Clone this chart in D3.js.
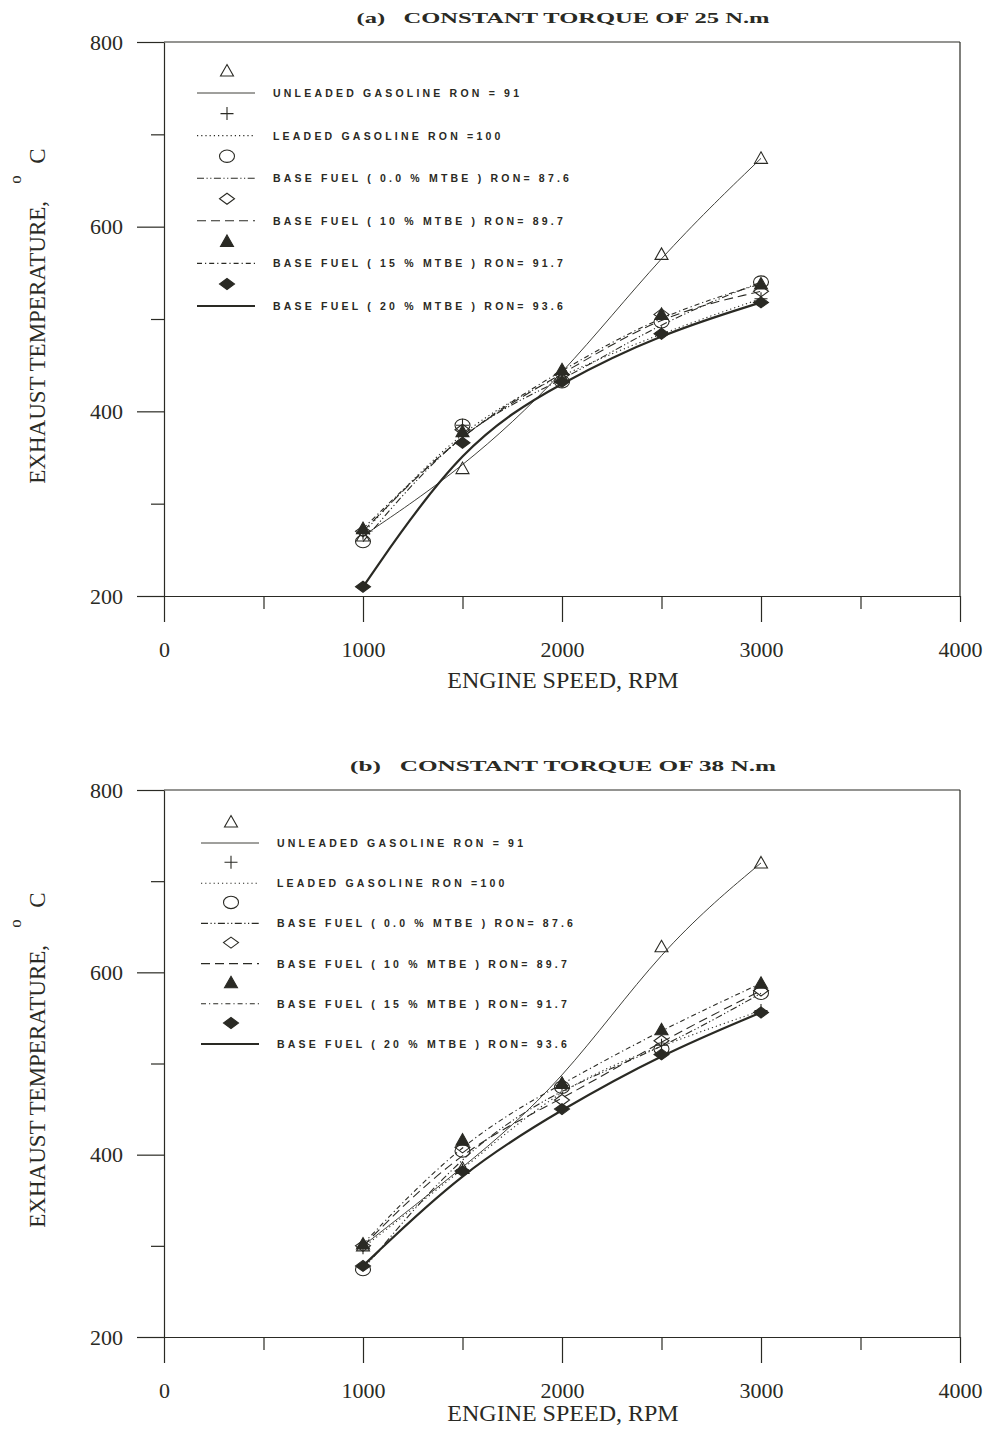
<!DOCTYPE html>
<html>
<head>
<meta charset="utf-8">
<script src="https://cdn.jsdelivr.net/npm/d3@7/dist/d3.min.js"></script>
<style>
  body { margin: 0; background: #fff; }
</style>
</head>
<body>
<div id="chart"></div>
<script>
// engine speeds where readings were taken
const rpm = [1000, 1500, 2000, 2500, 3000]
const xTicks = [0, 1000, 2000, 3000, 4000]
const xMinor = [500, 1500, 2500, 3500]
const yTicks = [200, 400, 600, 800]
const yMinor = [300, 500, 700]

const fuelLabels = [
  'UNLEADED GASOLINE RON = 91',
  'LEADED GASOLINE RON =100',
  'BASE FUEL ( 0.0 % MTBE ) RON= 87.6',
  'BASE FUEL ( 10 % MTBE ) RON= 89.7',
  'BASE FUEL ( 15 % MTBE ) RON= 91.7',
  'BASE FUEL ( 20 % MTBE ) RON= 93.6'
]
const titles = ['(a)   CONSTANT TORQUE OF 25 N.m', '(b)   CONSTANT TORQUE OF 38 N.m']

// panel (a) exhaust temperatures, deg C
const unleadedA = [265, 338, 437, 570, 674]
const leadedA = [268, 385, 440, 485, 522]
const base0A = [259, 385, 432, 497, 540]
const base10A = [270, 380, 440, 505, 530]
const base15A = [273, 378, 445, 505, 538]
const base20A = [210, 366, 432, 484, 518]

// panel (b) exhaust temperatures, deg C
const unleadedB = [300, 385, 478, 628, 720]
const leadedB = [298, 383, 476, 520, 558]
const base0B = [274, 404, 474, 516, 577]
const base10B = [300, 408, 460, 525, 580]
const base15B = [302, 416, 478, 537, 588]
const base20B = [278, 382, 450, 510, 556]

const ink = '#2a2a24'
const serif = '"Liberation Serif", "DejaVu Serif", serif'
const sans = '"Liberation Sans", Arial, sans-serif'

// line look and marker for each fuel, same order as fuelLabels
const styles = [
  { dash: null, width: 0.9, marker: 'triangle' },
  { dash: '1.2,3', width: 1.1, marker: 'plus' },
  { dash: '7,2.5,1.2,2.5,1.2,2.5', width: 1.1, marker: 'circle' },
  { dash: '9,5', width: 1.1, marker: 'diamond' },
  { dash: '5,3,1.2,3', width: 1.1, marker: 'ftriangle' },
  { dash: null, width: 2.2, marker: 'fdiamond' }
]

const svg = d3.select('#chart')
  .append('svg')
  .attr('width', 989)
  .attr('height', 1432)

svg.append('rect').attr('width', 989).attr('height', 1432).attr('fill', '#fff')

function drawMarker (g, kind, cx, cy) {
  const p = d3.path()
  let fill = 'none'
  if (kind === 'triangle' || kind === 'ftriangle') {
    p.moveTo(cx, cy - 6.5); p.lineTo(cx + 6.5, cy + 5); p.lineTo(cx - 6.5, cy + 5); p.closePath()
    if (kind === 'ftriangle') fill = ink
  } else if (kind === 'plus') {
    p.moveTo(cx - 6.5, cy); p.lineTo(cx + 6.5, cy)
    p.moveTo(cx, cy - 6.5); p.lineTo(cx, cy + 6.5)
  } else if (kind === 'circle') {
    g.append('ellipse')
      .attr('cx', cx).attr('cy', cy).attr('rx', 7.5).attr('ry', 6.2)
      .attr('fill', 'none').attr('stroke', ink).attr('stroke-width', 1.1)
    return
  } else {
    p.moveTo(cx, cy - 5.5); p.lineTo(cx + 7.5, cy); p.lineTo(cx, cy + 5.5); p.lineTo(cx - 7.5, cy); p.closePath()
    if (kind === 'fdiamond') fill = ink
  }
  g.append('path')
    .attr('d', p.toString())
    .attr('fill', fill)
    .attr('stroke', ink)
    .attr('stroke-width', 1.1)
}

function drawPanel (cfg) {
  const x = d3.scaleLinear().domain([0, 4000]).range([164, 960])
  const y = d3.scaleLinear().domain([200, 800]).range([cfg.bottom, cfg.top])
  const g = svg.append('g')

  // axes
  const xAxis = g.append('g')
    .attr('transform', `translate(0,${cfg.bottom})`)
    .call(d3.axisBottom(x).tickValues(xTicks).tickFormat(d3.format('d'))
      .tickSize(26).tickSizeOuter(0).tickPadding(19))
  const xMin = g.append('g')
    .attr('transform', `translate(0,${cfg.bottom})`)
    .call(d3.axisBottom(x).tickValues(xMinor).tickSize(13).tickFormat(''))
  xMin.select('.domain').remove()

  const yAxis = g.append('g')
    .attr('transform', 'translate(164,0)')
    .call(d3.axisLeft(y).tickValues(yTicks).tickFormat(d3.format('d'))
      .tickSize(27).tickSizeOuter(0).tickPadding(14))
  const yMin = g.append('g')
    .attr('transform', 'translate(164,0)')
    .call(d3.axisLeft(y).tickValues(yMinor).tickSize(13).tickFormat(''))
  yMin.select('.domain').remove()

  ;[xAxis, xMin, yAxis, yMin].forEach(a => {
    a.selectAll('path, line').attr('stroke', ink).attr('stroke-width', 1.2)
    a.selectAll('text')
      .attr('fill', ink)
      .attr('font-family', serif)
      .attr('font-size', 22)
  })

  // frame: top and right sides
  g.append('line')
    .attr('x1', x(0)).attr('x2', x(4000)).attr('y1', y(800)).attr('y2', y(800))
    .attr('stroke', ink).attr('stroke-width', 1.2)
  g.append('line')
    .attr('x1', x(4000)).attr('x2', x(4000)).attr('y1', y(800)).attr('y2', y(200))
    .attr('stroke', ink).attr('stroke-width', 1.2)

  // titles
  g.append('text')
    .attr('x', 563).attr('y', cfg.top - 19)
    .attr('text-anchor', 'middle')
    .attr('font-family', serif)
    .attr('font-weight', 'bold')
    .attr('font-size', 15)
    .attr('textLength', cfg.titleWidth)
    .attr('lengthAdjust', 'spacingAndGlyphs')
    .style('white-space', 'pre')
    .attr('fill', ink)
    .text(cfg.title)

  g.append('text')
    .attr('x', 563).attr('y', cfg.bottom + cfg.xTitleOffset)
    .attr('text-anchor', 'middle')
    .attr('font-family', serif)
    .attr('font-size', 24)
    .attr('fill', ink)
    .text('ENGINE SPEED, RPM')

  const yt = g.append('text')
    .attr('transform', `translate(45,${cfg.yTitleMid}) rotate(-90)`)
    .attr('text-anchor', 'middle')
    .attr('font-family', serif)
    .attr('font-size', 23)
    .style('white-space', 'pre')
    .attr('fill', ink)
  yt.append('tspan').text('EXHAUST TEMPERATURE,   ')
  yt.append('tspan').attr('dy', -24).attr('font-size', 17).text('o')
  yt.append('tspan').attr('dy', 24).text('  C')

  // fitted curves
  const line = d3.line()
    .x((d, i) => x(rpm[i]))
    .y(d => y(d))
    .curve(d3.curveBasis)

  cfg.series.forEach((s, k) => {
    g.append('path')
      .datum(s)
      .attr('d', line)
      .attr('fill', 'none')
      .attr('stroke', ink)
      .attr('stroke-width', styles[k].width)
      .attr('stroke-dasharray', styles[k].dash)
  })

  // measured points
  cfg.series.forEach((s, k) => {
    s.forEach((v, i) => drawMarker(g, styles[k].marker, x(rpm[i]), y(v)))
  })

  // legend
  const lg = g.append('g')
  fuelLabels.forEach((label, k) => {
    const my = cfg.legendY + k * cfg.legendStep
    drawMarker(lg, styles[k].marker, cfg.legendX + 30, my)
    lg.append('line')
      .attr('x1', cfg.legendX).attr('x2', cfg.legendX + 58)
      .attr('y1', my + cfg.legendGap).attr('y2', my + cfg.legendGap)
      .attr('stroke', ink)
      .attr('stroke-width', styles[k].width)
      .attr('stroke-dasharray', styles[k].dash)
    lg.append('text')
      .attr('x', cfg.legendX + 76)
      .attr('y', my + cfg.legendGap + 4)
      .attr('font-family', sans)
      .attr('font-weight', 'bold')
      .attr('font-size', 10.5)
      .attr('letter-spacing', 3.2)
      .attr('fill', ink)
      .text(label)
  })
}

drawPanel({
  top: 42,
  bottom: 596,
  title: titles[0],
  titleWidth: 413,
  xTitleOffset: 92,
  yTitleMid: 316,
  series: [unleadedA, leadedA, base0A, base10A, base15A, base20A],
  legendX: 197,
  legendY: 71,
  legendStep: 42.6,
  legendGap: 22
})

drawPanel({
  top: 790,
  bottom: 1337,
  title: titles[1],
  titleWidth: 426,
  xTitleOffset: 84,
  yTitleMid: 1060,
  series: [unleadedB, leadedB, base0B, base10B, base15B, base20B],
  legendX: 201,
  legendY: 822,
  legendStep: 40.2,
  legendGap: 21
})
</script>
</body>
</html>
